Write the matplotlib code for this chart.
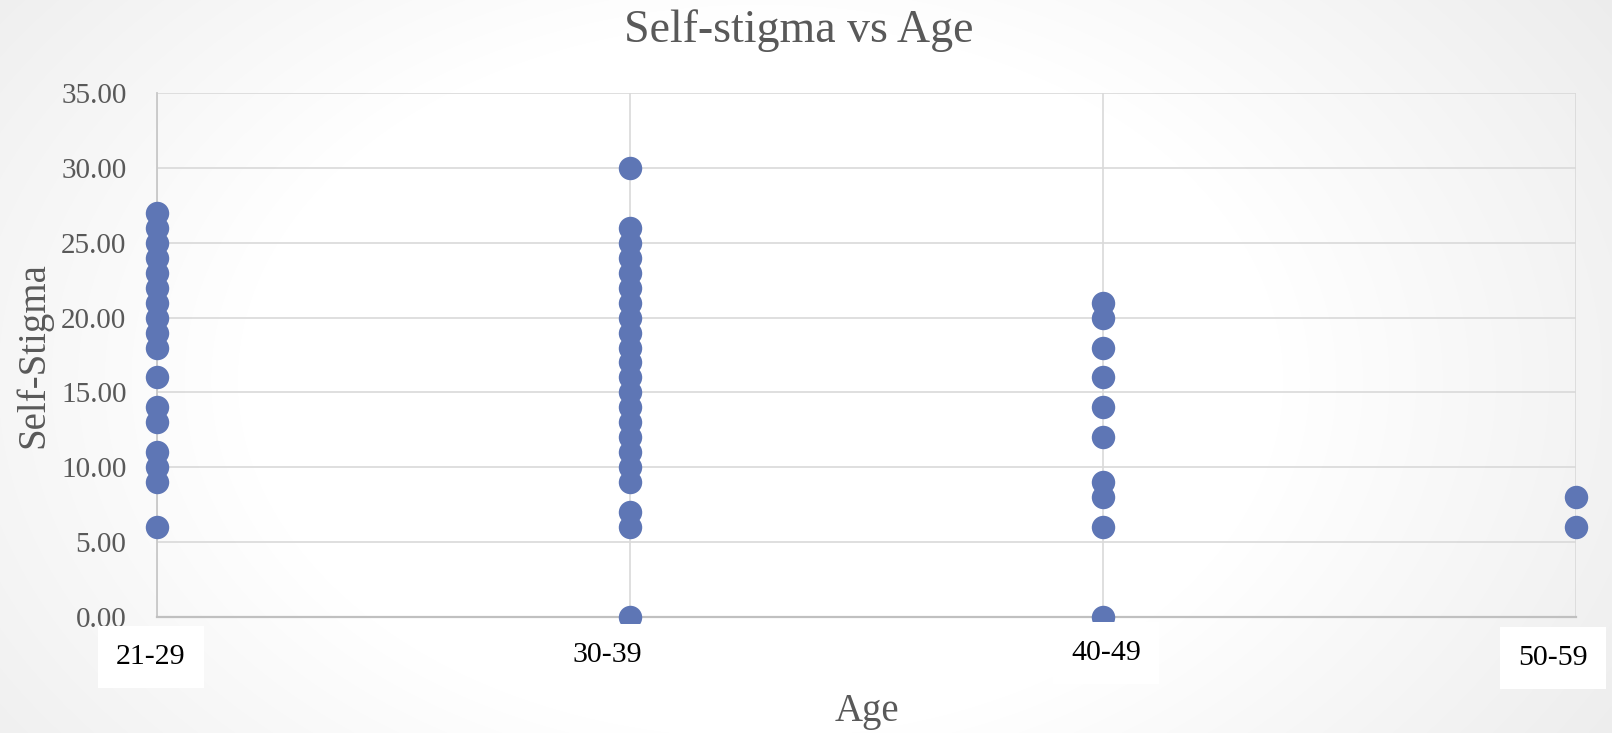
import numpy as np
import matplotlib
matplotlib.use("Agg")
import matplotlib.pyplot as plt

categories = ["21-29", "30-39", "40-49", "50-59"]
g21_29 = [27, 26, 25, 24, 23, 22, 21, 20, 19, 18, 16, 14, 13, 11, 10, 9, 6]
g30_39 = [30, 26, 25, 24, 23, 22, 21, 20, 19, 18, 17, 16, 15, 14, 13, 12, 11, 10, 9, 7, 6, 0]
g40_49 = [21, 20, 18, 16, 14, 12, 9, 8, 6, 0]
g50_59 = [8, 6]
groups = [g21_29, g30_39, g40_49, g50_59]
y_ticks = [0, 5, 10, 15, 20, 25, 30, 35]

W, H = 1612, 733
fig = plt.figure(figsize=(W / 100, H / 100), dpi=100)

# background gradient
bg = fig.add_axes([0, 0, 1, 1], zorder=-10)
yy, xx = np.mgrid[0:H, 0:W]
d = np.sqrt(((xx - 760) / 950.0) ** 2 + ((yy - 380) / 650.0) ** 2)
v = 1.0 - 0.14 * np.clip(d - 0.55, 0, None)
v = np.clip(v, 0.885, 1.0)
bg.imshow(np.dstack([v, v, v]), aspect="auto", extent=[0, 1, 0, 1])
bg.axis("off")

ax = fig.add_axes([157 / W, 1 - 617 / H, (1576 - 157) / W, (617 - 93) / H])
ax.patch.set_alpha(0)

serif = ["Liberation Serif", "DejaVu Serif"]
gray_txt = "#595959"

xpos = np.arange(1, len(categories) + 1)
for x, vals in zip(xpos, groups):
    ax.scatter([x] * len(vals), vals, s=285, color="#5E76B5", zorder=3,
               clip_on=False, linewidths=0)

ax.set_xlim(1, 4)
ax.set_ylim(0, 35)
ax.set_yticks(y_ticks)
ax.set_yticklabels([f"{t:.2f}" for t in y_ticks], fontfamily=serif,
                   fontsize=21, color=gray_txt)
ax.tick_params(axis="y", length=0, pad=22)
ax.set_xticks(xpos)
ax.set_xticklabels([])
ax.tick_params(axis="x", length=0)
ax.grid(True, color="#d9d9d9", linewidth=1.2, zorder=0)
ax.set_axisbelow(True)
for s in ["top", "right"]:
    ax.spines[s].set_visible(False)
ax.spines["left"].set_color("#c8c8c8")
ax.spines["left"].set_linewidth(1.3)
ax.spines["bottom"].set_color("#c0c0c0")
ax.spines["bottom"].set_linewidth(1.6)

# category labels in white boxes
offsets = [-0.013, -0.049, 0.006, -0.049]
yoffs = [-0.076, -0.0725, -0.069, -0.078]
for x, lab, ox, oy in zip(xpos, categories, offsets, yoffs):
    ax.text(x + ox, oy, lab, transform=ax.get_xaxis_transform(),
            ha="center", va="center", fontfamily=serif, fontsize=21.5,
            color="black",
            bbox=dict(boxstyle="square,pad=0.6", fc="white", ec="none"))

fig.text(799 / W, 1 - 31 / H, "Self-stigma vs Age",
         ha="center", va="center", fontfamily=serif, fontsize=33,
         color=gray_txt)
fig.text(34 / W, 1 - 355 / H, "Self-Stigma", rotation=90, ha="center",
         va="center", fontfamily=serif, fontsize=28, color=gray_txt)
fig.text(867 / W, 1 - 712 / H, "Age", ha="center",
         va="center", fontfamily=serif, fontsize=28, color=gray_txt)

fig.savefig("out.png", dpi=100)
